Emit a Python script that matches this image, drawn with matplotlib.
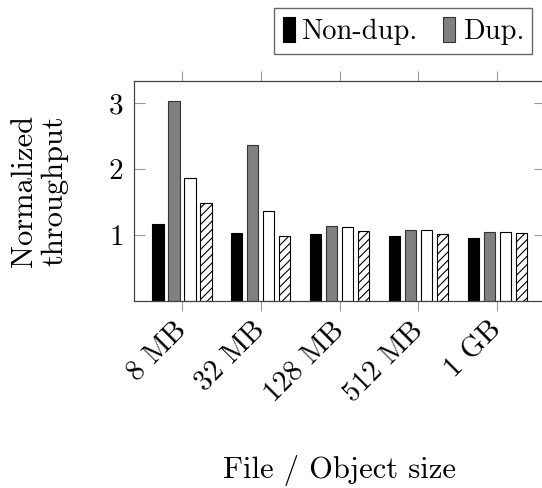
import numpy as np
import matplotlib
matplotlib.use("Agg")
import matplotlib.pyplot as plt

plt.rcParams['font.family'] = ['cmr10', 'DejaVu Serif']
plt.rcParams['mathtext.fontset'] = 'cm'
plt.rcParams['axes.formatter.use_mathtext'] = True
plt.rcParams['hatch.linewidth'] = 0.8

# Data
sizes = ["8 MB", "32 MB", "128 MB", "512 MB", "1 GB"]
non_dup = [1.16, 1.03, 1.01, 0.99, 0.955]
dup = [3.03, 2.36, 1.13, 1.07, 1.05]
third = [1.86, 1.37, 1.12, 1.07, 1.04]
fourth = [1.48, 0.99, 1.065, 1.01, 1.025]
legend_labels = ["Non-dup.", "Dup."]

fig = plt.figure(figsize=(5.42, 4.88), dpi=100)
ax = fig.add_axes([0.2478, 0.3832, 0.7577, 0.4514])

x = np.arange(len(sizes))
step = 0.203
w = 0.14

b1 = ax.bar(x - 1.5 * step, non_dup, w, color="black", edgecolor="black", linewidth=0.8)
b2 = ax.bar(x - 0.5 * step, dup, w, color="#808080", edgecolor="#333333", linewidth=0.8)
b3 = ax.bar(x + 0.5 * step, third, w, color="white", edgecolor="black", linewidth=0.8)
b4 = ax.bar(x + 1.5 * step, fourth, w, color="white", edgecolor="black", linewidth=0.8, hatch="////")

ax.set_xlim(-0.605, 4.605)
ax.set_ylim(0, 3.34)
ax.set_yticks([1, 2, 3])
ax.set_xticks(x)
ax.set_xticklabels(sizes, rotation=45, ha="right", va="center", rotation_mode="anchor", fontsize=21)
ax.tick_params(axis="y", labelsize=21, direction="in", length=8, width=0.8,
               colors="#999999", labelcolor="black", right=True, pad=8)
ax.tick_params(axis="x", direction="out", length=7, width=0.8,
               colors="#999999", labelcolor="black", top=True, pad=11)

for s in ax.spines.values():
    s.set_color("#444444")
    s.set_linewidth(0.9)

ax.set_xlabel("File / Object size", fontsize=22)
ax.xaxis.set_label_coords(0.5, -0.768)
ax.xaxis.label.set_va("center")
ax.set_ylabel("Normalized\nthroughput", fontsize=22, linespacing=1.15)
ax.yaxis.set_label_coords(-0.23, 0.5)
ax.yaxis.label.set_va("center")

fig.legend([b1, b2], legend_labels, loc="upper left", bbox_to_anchor=(274 / 542, 1 - 8 / 488),
           ncol=2, fontsize=20.5, frameon=True, fancybox=False, edgecolor="#444444",
           handlelength=0.42, handleheight=1.0, handletextpad=0.25, columnspacing=0.9,
           borderpad=0.3, borderaxespad=0)

fig.savefig("out.png", dpi=100)
